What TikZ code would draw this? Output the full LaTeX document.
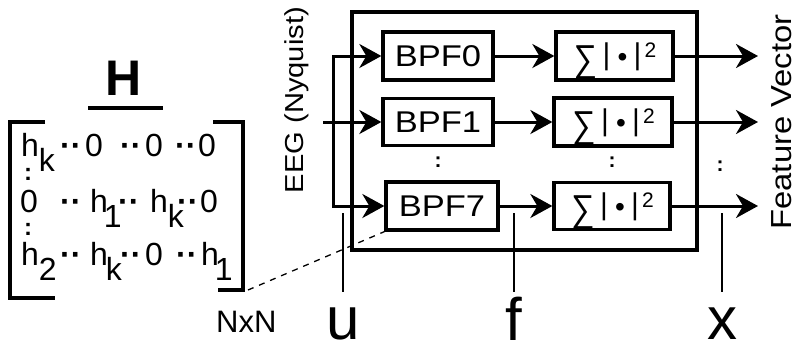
\documentclass[tikz,border=0pt]{standalone}
\usepackage{fontspec}
\setmainfont{Liberation Sans}
\usetikzlibrary{arrows.meta}
\newcommand\fs[1]{\fontsize{#1}{#1}\selectfont}
\newcommand\sbx[1]{\raisebox{-15pt}{#1}}
\newcommand\wide[1]{\scalebox{1.15}[1]{#1}}
\newcommand\sumtxt{\hspace{2pt}\makebox[22pt]{\raisebox{-5pt}{\scalebox{1.1}[1.25]{∑}}}\hspace{6pt}\makebox[8pt]{\raisebox{2pt}{|}}\hspace{8pt}\makebox[8pt]{\fs{28}•}\hspace{7pt}\makebox[8pt]{\raisebox{2pt}{|}}\hspace{3pt}\makebox[12pt]{\raisebox{9.75pt}{\fs{21}2}}}
\begin{document}
\begin{tikzpicture}[x=1pt,y=-1pt,
  box/.style={draw, line width=3.3pt, inner sep=0pt, font=\fs{30}},
  sbox/.style={box, text height=21.5pt, text depth=0pt},
  arrw/.style={line width=3pt, -{Stealth[length=22pt,width=24pt,inset=7pt]}},
  arrb/.style={line width=3pt, {Stealth[length=22pt,width=24pt,inset=7pt]}-{Stealth[length=22pt,width=24pt,inset=7pt]}},
  thinl/.style={line width=1.3pt},
  mt/.style={anchor=base west, inner sep=0pt, font=\fs{32}},
  mdots/.style={anchor=base west, inner sep=0pt, font=\fs{32}\bfseries},
  vdots/.style={inner sep=0pt, font=\fs{24}\bfseries},
  cdots/.style={inner sep=0pt, font=\fs{21}\bfseries},
  lbl/.style={anchor=base, inner sep=0pt, font=\fs{60}, text depth=0pt},
  brk/.style={line width=4pt},
]
\useasboundingbox (0,0) rectangle (796,346);

% ---------- block diagram ----------
\node[box, minimum width=345pt, minimum height=238pt] (frame) at (524.5,131) {};
\node[box, minimum width=110pt, minimum height=48pt] (bpf0) at (438,56) {\wide{BPF0}};
\node[box, minimum width=110pt, minimum height=47pt] (bpf1) at (438,122) {\wide{BPF1}};
\node[box, minimum width=112pt, minimum height=48pt] (bpf7) at (442,206) {\wide{BPF7}};
\node[sbox, minimum width=117pt, minimum height=48pt] (s0) at (614.5,56) {\sumtxt};
\node[sbox, minimum width=118pt, minimum height=48pt] (s1) at (613,122) {\sumtxt};
\node[sbox, minimum width=116pt, minimum height=47pt] (s7) at (612,206) {\sumtxt};

\node[cdots] (c1) at (438,162) {:};
\node[cdots] (c2) at (612,162) {:};
\node[cdots] (c3) at (720,166) {:};

% inputs
\coordinate (in) at (323,122);
\coordinate (j0) at (333,56);
\coordinate (j7) at (333,206);
\draw[arrw] (in) -- (bpf1.west);
\draw[arrb] (bpf0.west) -- (j0) -- (j7) -- (bpf7.west);

% middle
\draw[arrw] (bpf0.east) -- (s0.west);
\draw[arrw] (bpf1.east) -- (s1.west);
\draw[arrw] (bpf7.east) -- (s7.west);

% outputs
\coordinate (o0) at (758,56);
\coordinate (o1) at (758,122);
\coordinate (o7) at (758,206);
\draw[arrw] (s0.east) -- (o0);
\draw[arrw] (s1.east) -- (o1);
\draw[arrw] (s7.east) -- (o7);

\node[rotate=90, font=\fs{26}, inner sep=0pt] (eeg) at (297,100) {\scalebox{1.12}[1]{EEG (Nyquist)}};
\node[rotate=90, font=\fs{29}, inner sep=0pt, text height=21pt, text depth=0pt] (fv) at (781,122) {\scalebox{1.13}[1]{Feature Vector}};

% signal labels
\node[lbl] (u) at (343,339) {u};
\node[lbl] (f) at (514,340) {f};
\node[lbl] (x) at (722,339) {x};
\coordinate (ut) at (343,213); \coordinate (ub) at (343,292);
\coordinate (ft) at (514,213); \coordinate (fb) at (514,292);
\coordinate (xt) at (722,213); \coordinate (xb) at (722,292);
\draw[thinl] (ut) -- (ub);
\draw[thinl] (ft) -- (fb);
\draw[thinl] (xt) -- (xb);

% ---------- matrix H ----------
\node[anchor=base, inner sep=0pt, font=\fs{50}\bfseries] (H) at (124,95) {H};
\draw[line width=4pt] (88,108) -- (163,108);
\draw[brk] (45,122) -- (10,122) -- (10,298) -- (55,298);
\draw[brk] (213,122) -- (243,122) -- (243,290) -- (218,290);

% row 1
\node[mt] (m11) at (21,156) {h\sbx{k}};
\node[mdots] (d11) at (60,156) {··};
\node[mt] (m12) at (85,156) {0};
\node[mdots] (d12) at (120,156) {··};
\node[mt] (m13) at (145,156) {0};
\node[mdots] (d13) at (175,156) {··};
\node[mt] (m14) at (198,156) {0};
% row 2
\node[mt] (m21) at (20,212) {0};
\node[mdots] (d21) at (60,212) {··};
\node[mt] (m22) at (90,212) {h\hspace{-4pt}\sbx{1}};
\node[mdots] (d22) at (118,212) {··};
\node[mt] (m23) at (150,212) {h\sbx{k}};
\node[mdots] (d23) at (177,212) {··};
\node[mt] (m24) at (200,212) {0};
% row 3
\node[mt] (m31) at (21,265) {h\sbx{2}};
\node[mdots] (d31) at (60,265) {··};
\node[mt] (m32) at (90,265) {h\hspace{-2pt}\sbx{k}};
\node[mdots] (d32) at (120,265) {··};
\node[mt] (m33) at (145,265) {0};
\node[mdots] (d33) at (176,265) {··};
\node[mt] (m34) at (201,265) {h\hspace{-4pt}\sbx{1}};
% vertical dots
\node[vdots] (v1) at (28,174) {:};
\node[vdots] (v2) at (28,229) {:};

\node[anchor=base west, inner sep=0pt, font=\fs{31}] (nxn) at (216,332) {NxN};
\coordinate (brc) at (248,290);
\draw[thinl, dash pattern=on 6pt off 6pt] (brc) -- (bpf7.south west);
\end{tikzpicture}
\end{document}
